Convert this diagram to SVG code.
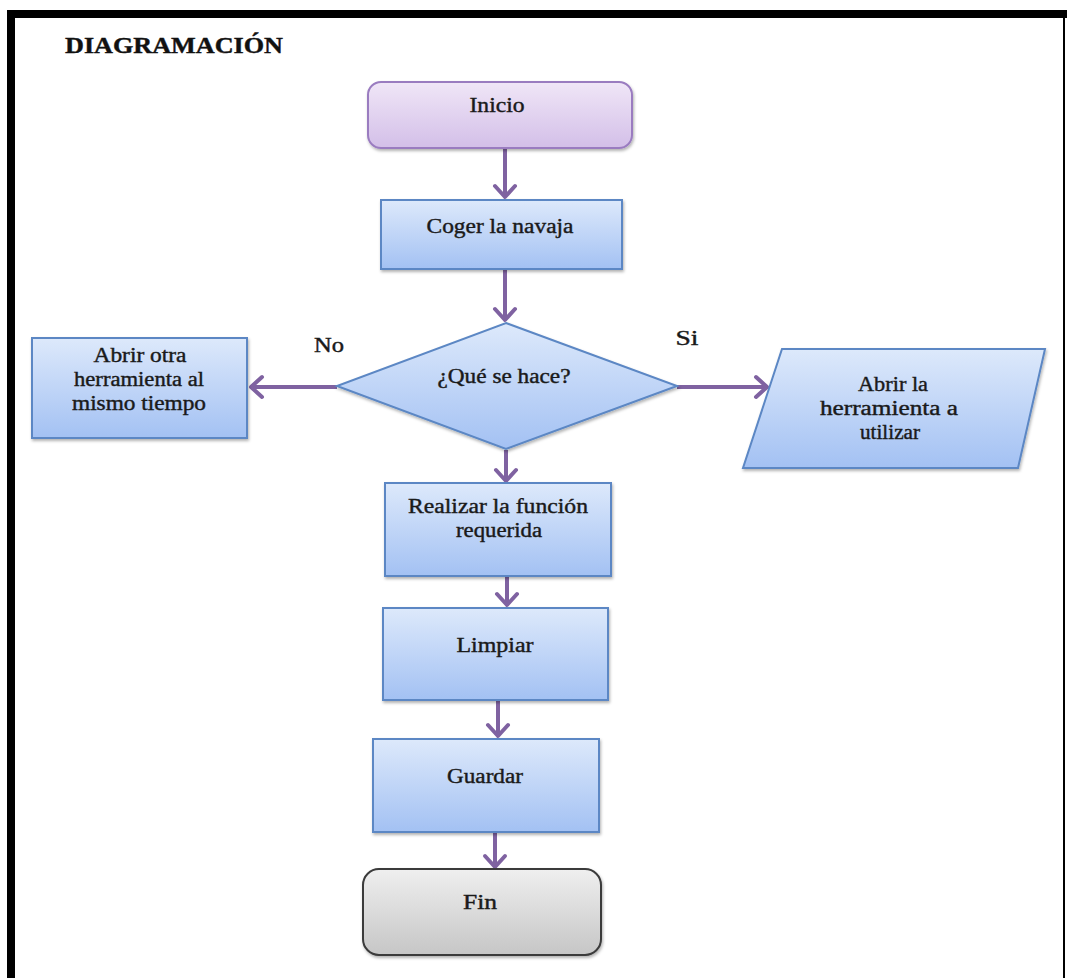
<svg xmlns="http://www.w3.org/2000/svg" width="1067" height="978" viewBox="0 0 1067 978">
<style>
.t{font-family:"Liberation Serif","Times New Roman",serif;font-size:20px;fill:#1a1a1a;stroke:#1a1a1a;stroke-width:0.4;text-anchor:middle;}
.box{fill:url(#gBlue);stroke:#5b87c4;stroke-width:2;filter:url(#sh);}
.con{stroke:#7f62a1;stroke-width:4;fill:none;marker-end:url(#arr);}
</style>
<defs>
<linearGradient id="gBlue" x1="0" y1="0" x2="0" y2="1">
<stop offset="0" stop-color="#dde9fb"/>
<stop offset="1" stop-color="#a3c1f3"/>
</linearGradient>
<linearGradient id="gPurple" x1="0" y1="0" x2="0" y2="1">
<stop offset="0" stop-color="#f0e6f7"/>
<stop offset="1" stop-color="#d3bfe8"/>
</linearGradient>
<linearGradient id="gGray" x1="0" y1="0" x2="0" y2="1">
<stop offset="0" stop-color="#efefef"/>
<stop offset="1" stop-color="#c6c6c6"/>
</linearGradient>
<filter id="sh" x="-10%" y="-10%" width="130%" height="130%">
<feDropShadow dx="1" dy="2" stdDeviation="1.5" flood-color="#000" flood-opacity="0.3"/>
</filter>
<marker id="arr" markerUnits="userSpaceOnUse" markerWidth="30" markerHeight="30" viewBox="-16 -15 20 30" refX="0" refY="0" orient="auto">
<path d="M-11,-10 L0,0 L-11,10" fill="none" stroke="#7f62a1" stroke-width="4" stroke-linecap="round" stroke-linejoin="round"/>
</marker>
</defs>
<rect x="0" y="0" width="1067" height="978" fill="#ffffff"/>
<g id="frame">
<rect x="7" y="10" width="1060" height="8" fill="#000"/>
<rect x="7" y="10" width="8" height="968" fill="#000"/>
<rect x="1063" y="10" width="2" height="968" fill="#000"/>
</g>
<text id="title" x="65" y="53" font-family="Liberation Serif, Times New Roman, serif" font-size="23" font-weight="bold" fill="#111" stroke="#111" stroke-width="0.4" textLength="218" lengthAdjust="spacingAndGlyphs">DIAGRAMACIÓN</text>

<g id="connectors">
<line class="con" x1="505" y1="149" x2="505" y2="197"/>
<line class="con" x1="505" y1="270" x2="505" y2="320"/>
<line class="con" x1="337" y1="387" x2="251" y2="387"/>
<line class="con" x1="677" y1="387" x2="767" y2="387"/>
<line class="con" x1="506" y1="450" x2="506" y2="481"/>
<line class="con" x1="507" y1="577" x2="507" y2="605"/>
<line class="con" x1="498" y1="701" x2="498" y2="736"/>
<line class="con" x1="495" y1="833" x2="495" y2="867"/>
</g>

<g id="inicio">
<rect x="368" y="82" width="264" height="66" rx="13" fill="url(#gPurple)" stroke="#9a7cc0" stroke-width="2" filter="url(#sh)"/>
<text class="t" x="497" y="112" textLength="55" lengthAdjust="spacingAndGlyphs">Inicio</text>
</g>
<g id="coger">
<rect class="box" x="381" y="200" width="241" height="69"/>
<text class="t" x="500" y="233" textLength="147" lengthAdjust="spacingAndGlyphs">Coger la navaja</text>
</g>
<g id="decision">
<polygon points="506,323 677,386 506,449 337,386" fill="url(#gBlue)" stroke="#5b87c4" stroke-width="2" filter="url(#sh)"/>
<text class="t" x="504" y="383" textLength="133" lengthAdjust="spacingAndGlyphs">¿Qué se hace?</text>
</g>
<g id="lbl-no"><text class="t" x="329" y="352" textLength="30" lengthAdjust="spacingAndGlyphs">No</text></g>
<g id="lbl-si"><text class="t" x="687" y="345" textLength="23" lengthAdjust="spacingAndGlyphs">Si</text></g>
<g id="abrir-otra">
<rect class="box" x="32" y="338" width="215" height="100"/>
<text class="t" x="140" y="362" textLength="93" lengthAdjust="spacingAndGlyphs">Abrir otra</text>
<text class="t" x="139" y="386" textLength="130" lengthAdjust="spacingAndGlyphs">herramienta al</text>
<text class="t" x="139" y="410" textLength="134" lengthAdjust="spacingAndGlyphs">mismo tiempo</text>
</g>
<g id="abrir-la">
<polygon points="782,349 1045,349 1018,468 743,468" fill="url(#gBlue)" stroke="#5b87c4" stroke-width="2" filter="url(#sh)"/>
<text class="t" x="893" y="391" textLength="70" lengthAdjust="spacingAndGlyphs">Abrir la</text>
<text class="t" x="889" y="415" textLength="138" lengthAdjust="spacingAndGlyphs">herramienta a</text>
<text class="t" x="890" y="439" textLength="60" lengthAdjust="spacingAndGlyphs">utilizar</text>
</g>
<g id="realizar">
<rect class="box" x="385" y="483" width="226" height="93"/>
<text class="t" x="498" y="513" textLength="180" lengthAdjust="spacingAndGlyphs">Realizar la función</text>
<text class="t" x="499" y="537" textLength="86" lengthAdjust="spacingAndGlyphs">requerida</text>
</g>
<g id="limpiar">
<rect class="box" x="383" y="608" width="225" height="92"/>
<text class="t" x="495" y="652" textLength="77" lengthAdjust="spacingAndGlyphs">Limpiar</text>
</g>
<g id="guardar">
<rect class="box" x="373" y="739" width="226" height="93"/>
<text class="t" x="485" y="783" textLength="76" lengthAdjust="spacingAndGlyphs">Guardar</text>
</g>
<g id="fin">
<rect x="363" y="869" width="238" height="86" rx="16" fill="url(#gGray)" stroke="#3a3a3a" stroke-width="2" filter="url(#sh)"/>
<text class="t" x="480" y="909" textLength="34" lengthAdjust="spacingAndGlyphs">Fin</text>
</g>
</svg>
